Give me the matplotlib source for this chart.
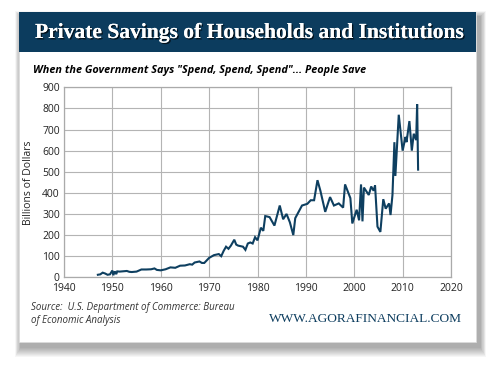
import matplotlib
matplotlib.use("Agg")
import matplotlib.pyplot as plt
from matplotlib.patches import Rectangle
import matplotlib.patheffects as pe

years = [1947.0, 1947.5, 1948.0, 1948.5, 1949.0, 1949.5, 1950.0, 1950.2, 1950.5, 1950.8, 1951.0,
         1951.5, 1952.0, 1953.0, 1953.5, 1954.0, 1955.0, 1956.0, 1957.0, 1958.0, 1958.7, 1959.2,
         1960.0, 1961.0, 1962.0, 1963.0, 1964.0, 1965.0, 1966.0, 1966.5, 1967.0, 1968.0,
         1968.5, 1969.0, 1970.0, 1971.0, 1972.0, 1972.5, 1973.0, 1973.5, 1974.0, 1974.5,
         1975.2, 1975.6, 1976.0, 1977.0, 1977.5, 1978.0, 1978.5, 1979.0, 1979.5, 1980.0,
         1980.7, 1981.2, 1981.6, 1982.0, 1982.5, 1983.5, 1984.6, 1985.3, 1986.0, 1986.7,
         1987.4, 1987.8, 1988.5, 1989.2, 1990.3, 1991.0, 1991.7, 1992.4, 1993.0, 1994.0,
         1995.0, 1995.8, 1996.8, 1997.7, 1998.1, 1999.2, 1999.6, 2000.5, 2001.0, 2001.4,
         2001.7, 2002.0, 2003.0, 2003.5, 2004.0, 2004.3, 2004.8, 2005.4, 2006.0, 2006.5,
         2007.2, 2007.5, 2007.9, 2008.3, 2008.5, 2009.2, 2010.0, 2010.6, 2010.8, 2011.4,
         2011.9, 2012.3, 2012.8, 2013.0, 2013.2]
savings = [12, 14, 22, 18, 12, 14, 32, 10, 28, 15, 28,
           27, 28, 30, 26, 25, 27, 37, 37, 38, 42, 35,
           33, 38, 47, 45, 55, 56, 62, 60, 70, 75,
           68, 68, 92, 105, 110, 100, 125, 145, 135, 150,
           178, 155, 150, 145, 130, 160, 165, 160, 190, 175,
           235, 220, 290, 288, 285, 245, 340, 275, 300, 260,
           200, 280, 310, 340, 348, 365, 365, 460, 410, 310,
           380, 340, 350, 330, 440, 375, 255, 320, 270, 440,
           265, 425, 390, 430, 410, 435, 240, 215, 370, 325,
           350, 295, 390, 640, 480, 770, 600, 665, 640, 740,
           600, 680, 650, 820, 510]

xticks = [1940, 1950, 1960, 1970, 1980, 1990, 2000, 2010, 2020]
yticks = [0, 100, 200, 300, 400, 500, 600, 700, 800, 900]

W, H = 500, 369
fig = plt.figure(figsize=(W / 100, H / 100), dpi=100)
fig.patch.set_facecolor("white")

def fx(px):
    return px / W

def fy(py):
    return 1 - py / H

navy = "#0c3c5e"

# soft card shadow
cx0, cy0, cx1, cy1 = 19, 12, 476, 342
n = 10
for i in range(n):
    grow = n - i
    fig.patches.append(Rectangle((fx(cx0 + 2 - grow * 0.6), fy(cy1 + 5 + grow)),
                                 fx(cx1 - cx0 + 2 + grow * 1.2), (cy1 - cy0 + grow * 1.6) / H,
                                 transform=fig.transFigure, facecolor="black", alpha=0.035,
                                 edgecolor="none", zorder=0))
# card
fig.patches.append(Rectangle((fx(cx0), fy(cy1)), fx(cx1 - cx0), (cy1 - cy0) / H,
                             transform=fig.transFigure, facecolor="white",
                             edgecolor="#dddddd", linewidth=0.5, zorder=1))
# banner
fig.patches.append(Rectangle((fx(cx0), fy(52)), fx(cx1 - cx0), 40 / H,
                             transform=fig.transFigure, facecolor=navy,
                             edgecolor="none", zorder=2))

fig.text(fx(249), fy(33), "Private Savings of Households and Institutions",
         color="white", fontsize=15.5, family="Liberation Serif", fontweight="bold",
         ha="center", va="center", zorder=3,
         path_effects=[pe.withSimplePatchShadow(offset=(1.0, -1.0), shadow_rgbFace="black", alpha=0.7),
                       pe.Normal()])

fig.text(fx(33), fy(70), "When the Government Says \"Spend, Spend, Spend\"... People Save",
         color="black", fontsize=7.8, family="Open Sans", fontweight="bold",
         style="italic", ha="left", va="center", zorder=3)

ax = fig.add_axes([fx(64), fy(277.3), fx(451 - 64), (277.3 - 87.3) / H])
ax.set_zorder(5)
ax.set_facecolor("white")
ax.plot(years, savings, color="#0e3f60", linewidth=1.5, solid_joinstyle="miter", zorder=3)
ax.set_xlim(1940, 2020)
ax.set_ylim(0, 900)
ax.set_xticks(xticks)
ax.set_yticks(yticks)
ax.set_xticklabels([str(t) for t in xticks])
ax.set_yticklabels([str(t) for t in yticks])
ax.grid(True, color="#b4b4b4", linewidth=0.8)
ax.set_axisbelow(True)
for s in ax.spines.values():
    s.set_color("#aaaaaa")
    s.set_linewidth(0.9)
ax.tick_params(axis="x", length=0, labelsize=7.5, labelcolor="#222222", pad=4, labelfontfamily="Open Sans")
ax.tick_params(axis="y", length=0, labelsize=7.5, labelcolor="#222222", pad=3, labelfontfamily="Open Sans")
ax.set_ylabel("Billions of Dollars", fontsize=7.5, family="Open Sans", color="#222222", labelpad=6)

fig.text(fx(31), fy(314), "Source:  U.S. Department of Commerce: Bureau\nof Economic Analysis",
         fontsize=7, family="Open Sans", style="italic", color="#333333",
         ha="left", va="center", linespacing=1.35, zorder=3)
fig.text(fx(462), fy(319), "WWW.AGORAFINANCIAL.COM", fontsize=9.6,
         family="Liberation Serif", color=navy, ha="right", va="center", zorder=3)

fig.savefig("out.png", dpi=100, facecolor="white")
